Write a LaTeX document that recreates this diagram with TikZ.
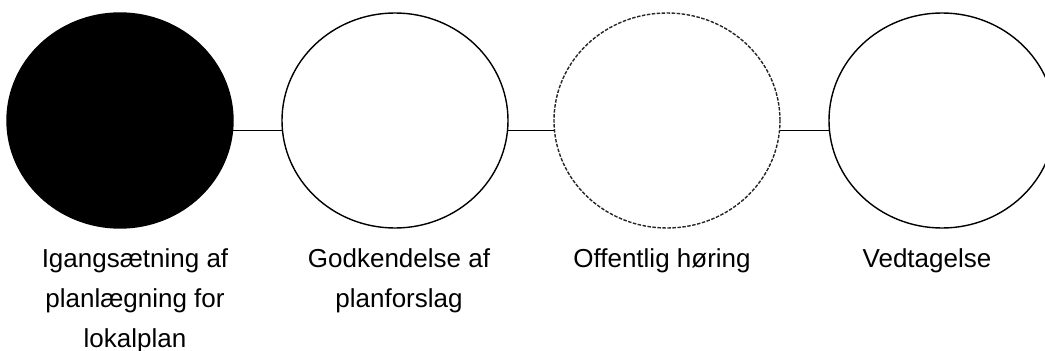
\documentclass[tikz,border=0pt]{standalone}
\usepackage{fontspec}
\setmainfont{Liberation Sans}
\usetikzlibrary{shapes.geometric}
\tikzset{%
	every stage/.style={
		ellipse,
		draw,
		line width=1.4pt,
		minimum width=226pt,
		minimum height=215pt,
		inner sep=0pt
	},
	stage done/.style={every stage, fill=black},
	stage open/.style={every stage, fill=white},
	stage pending/.style={every stage, draw=black!85, dash pattern=on 3.5pt off 1.5pt},
	stage label/.style={
		align=center,
		anchor=north,
		inner sep=0pt,
		font=\fontsize{26}{40}\selectfont
	},
}
\begin{document}
\begin{tikzpicture}[x=1pt, y=-1pt]
				\useasboundingbox (0,0) rectangle (1045,351);
				\clip (0,0) rectangle (1045,351);
				% Stages
				\node[stage done] (Stage-1) at (120,120.5) {};
				\node[stage open] (Stage-2) at (395,120.5) {};
				\node[stage pending] (Stage-3) at (667,120.5) {};
				\node[stage open] (Stage-4) at (942,120.5) {};
				% Connect stages
				\foreach \i/\j in {1/2,2/3,3/4}
				{
					\draw[line width=1.3pt] (Stage-\i.-5.3) -- (Stage-\j.185.3);
				}
				% Labels
				\node[stage label] (Label-1) at (135,248) {Igangsætning af\\planlægning for\\lokalplan};
				\node[stage label] (Label-2) at (399,248) {Godkendelse af\\planforslag};
				\node[stage label] (Label-3) at (662,248) {Offentlig høring};
				\node[stage label] (Label-4) at (927,248) {Vedtagelse};
			\end{tikzpicture}
\end{document}
